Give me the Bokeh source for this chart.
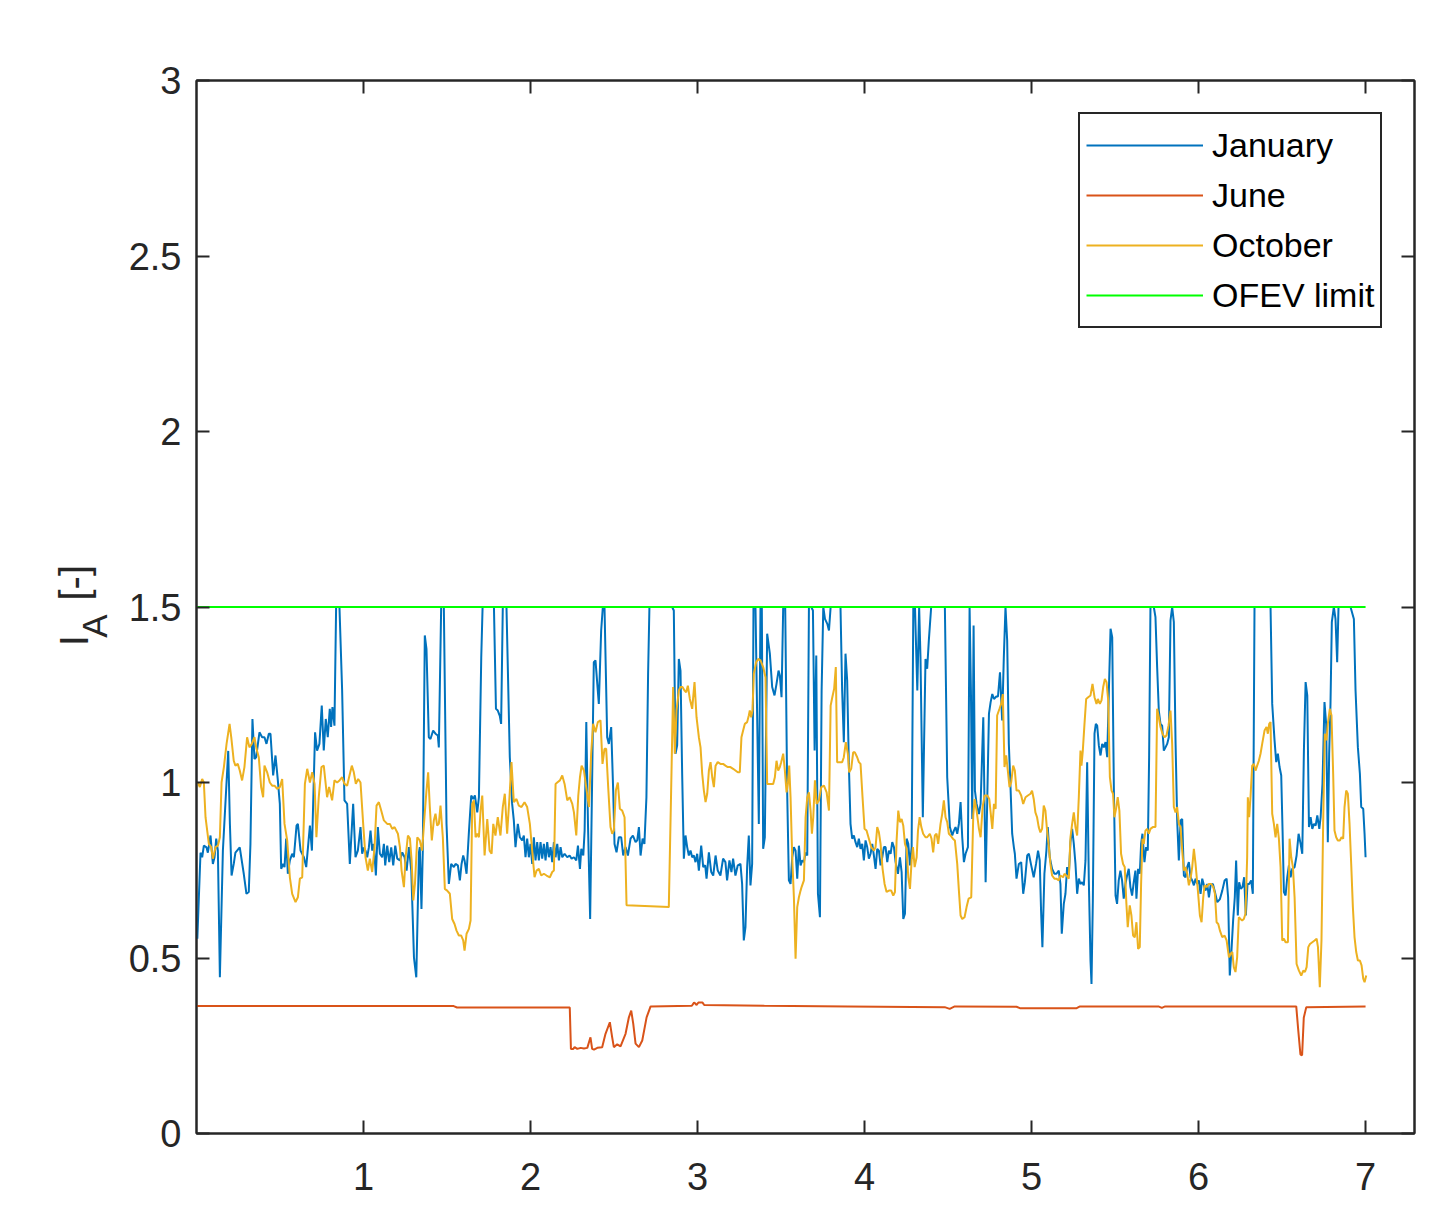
import math
from bokeh.plotting import figure
from bokeh.models import Range1d, LinearAxis, FixedTicker
from bokeh.layouts import row
from bokeh.core.properties import value
from bokeh.embed import file_html
from bokeh.resources import INLINE

# ---------------- data ----------------
jan_x = [0.005, 0.024, 0.034, 0.044, 0.06, 0.068, 0.084, 0.098, 0.108, 0.118, 0.128, 0.14, 0.158, 0.19, 0.20,
         0.21, 0.223, 0.233, 0.259, 0.283, 0.299, 0.313, 0.323, 0.335, 0.347, 0.357, 0.377, 0.393, 0.407, 0.419,
         0.433, 0.443, 0.459, 0.473, 0.487, 0.499, 0.507, 0.519, 0.527, 0.537, 0.547, 0.559, 0.573, 0.583, 0.599,
         0.607, 0.623, 0.643, 0.657, 0.679, 0.691, 0.71, 0.722, 0.736, 0.75, 0.762, 0.774, 0.786, 0.798, 0.806,
         0.814, 0.826, 0.836, 0.856, 0.872, 0.886, 0.902, 0.918, 0.938, 0.952, 0.966, 0.982, 0.992, 1.002, 1.012,
         1.022, 1.032, 1.042, 1.052, 1.062, 1.074, 1.086, 1.098, 1.112, 1.122, 1.13, 1.142, 1.154, 1.166, 1.178,
         1.19, 1.202, 1.218, 1.232, 1.246, 1.258, 1.272, 1.286, 1.302, 1.316, 1.332, 1.337, 1.347, 1.355, 1.367,
         1.377, 1.391, 1.401, 1.417, 1.431, 1.445, 1.451, 1.465, 1.481, 1.497, 1.511, 1.525, 1.541, 1.551, 1.565,
         1.577, 1.587, 1.597, 1.605, 1.617, 1.631, 1.645, 1.657, 1.667, 1.681, 1.691, 1.705, 1.713, 1.781, 1.793,
         1.804, 1.816, 1.824, 1.834, 1.856, 1.876, 1.89, 1.9, 1.91, 1.924, 1.936, 1.95, 1.96, 1.97, 1.98,
         1.99, 2.0, 2.01, 2.02, 2.03, 2.04, 2.05, 2.06, 2.07, 2.08, 2.09, 2.1, 2.11, 2.12, 2.13,
         2.14, 2.15, 2.16, 2.17, 2.18, 2.19, 2.204, 2.22, 2.234, 2.246, 2.26, 2.274, 2.284, 2.296, 2.304,
         2.316, 2.324, 2.334, 2.344, 2.357, 2.379, 2.389, 2.409, 2.423, 2.433, 2.443, 2.459, 2.469, 2.483, 2.495,
         2.503, 2.515, 2.529, 2.543, 2.555, 2.569, 2.583, 2.599, 2.613, 2.629, 2.639, 2.649, 2.659, 2.671, 2.682,
         2.694, 2.704, 2.712, 2.848, 2.858, 2.868, 2.878, 2.888, 2.898, 2.908, 2.918, 2.928, 2.938, 2.948, 2.958,
         2.968, 2.978, 2.988, 2.998, 3.008, 3.022, 3.034, 3.046, 3.054, 3.068, 3.082, 3.094, 3.108, 3.121, 3.137,
         3.153, 3.167, 3.177, 3.191, 3.203, 3.213, 3.227, 3.241, 3.257, 3.267, 3.277, 3.287, 3.297, 3.307, 3.317,
         3.327, 3.335, 3.347, 3.367, 3.377, 3.385, 3.393, 3.403, 3.417, 3.433, 3.447, 3.461, 3.473, 3.485, 3.493,
         3.503, 3.513, 3.525, 3.537, 3.547, 3.557, 3.567, 3.577, 3.587, 3.597, 3.607, 3.617, 3.627, 3.637, 3.647,
         3.657, 3.667, 3.681, 3.691, 3.701, 3.711, 3.721, 3.733, 3.743, 3.753, 3.763, 3.777, 3.787, 3.797, 3.856,
         3.866, 3.876, 3.886, 3.896, 3.906, 3.916, 3.926, 3.936, 3.946, 3.956, 3.966, 3.976, 3.986, 3.996, 4.006,
         4.016, 4.026, 4.036, 4.046, 4.056, 4.066, 4.076, 4.086, 4.096, 4.106, 4.116, 4.126, 4.136, 4.146, 4.156,
         4.166, 4.176, 4.186, 4.2, 4.212, 4.222, 4.232, 4.242, 4.252, 4.262, 4.272, 4.282, 4.292, 4.302, 4.316,
         4.327, 4.335, 4.349, 4.365, 4.375, 4.385, 4.399, 4.481, 4.495, 4.511, 4.525, 4.535, 4.545, 4.555, 4.565,
         4.575, 4.585, 4.595, 4.605, 4.619, 4.629, 4.637, 4.645, 4.653, 4.661, 4.671, 4.685, 4.695, 4.711, 4.725,
         4.735, 4.745, 4.755, 4.765, 4.775, 4.789, 4.799, 4.811, 4.824, 4.834, 4.844, 4.854, 4.864, 4.874, 4.884,
         4.894, 4.9, 4.91, 4.924, 4.938, 4.95, 4.96, 4.974, 4.984, 4.998, 5.013, 5.027, 5.039, 5.049, 5.057,
         5.065, 5.077, 5.089, 5.097, 5.109, 5.123, 5.137, 5.149, 5.163, 5.173, 5.181, 5.193, 5.203, 5.213, 5.223,
         5.233, 5.243, 5.253, 5.263, 5.273, 5.283, 5.293, 5.303, 5.313, 5.323, 5.333, 5.343, 5.353, 5.359, 5.367,
         5.377, 5.385, 5.393, 5.403, 5.413, 5.423, 5.433, 5.443, 5.453, 5.463, 5.473, 5.483, 5.493, 5.503, 5.512,
         5.522, 5.532, 5.542, 5.552, 5.562, 5.572, 5.582, 5.592, 5.602, 5.612, 5.622, 5.628, 5.638, 5.648, 5.656,
         5.664, 5.676, 5.686, 5.696, 5.704, 5.712, 5.732, 5.742, 5.752, 5.762, 5.772, 5.782, 5.792, 5.802, 5.812,
         5.822, 5.832, 5.842, 5.852, 5.862, 5.872, 5.882, 5.892, 5.902, 5.912, 5.922, 5.932, 5.942, 5.952, 5.962,
         5.972, 5.982, 5.992, 6.002, 6.012, 6.022, 6.032, 6.042, 6.052, 6.062, 6.072, 6.086, 6.098, 6.112, 6.128,
         6.142, 6.156, 6.168, 6.177, 6.187, 6.197, 6.207, 6.217, 6.225, 6.235, 6.243, 6.253, 6.263, 6.273, 6.283,
         6.293, 6.303, 6.315, 6.325, 6.335, 6.431, 6.441, 6.455, 6.465, 6.475, 6.485, 6.495, 6.503, 6.511, 6.521,
         6.531, 6.541, 6.551, 6.561, 6.575, 6.587, 6.599, 6.611, 6.621, 6.631, 6.641, 6.651, 6.661, 6.671, 6.681,
         6.691, 6.701, 6.711, 6.723, 6.731, 6.742, 6.754, 6.764, 6.774, 6.782, 6.79, 6.798, 6.81, 6.82, 6.83,
         6.838, 6.91, 6.93, 6.94, 6.954, 6.966, 6.974, 6.986, 6.994, 7.0]
jan_y = [0.555, 0.80, 0.787, 0.82, 0.815, 0.80, 0.849, 0.768, 0.787, 0.84, 0.806, 0.445, 0.806, 1.09, 0.882,
         0.735, 0.768, 0.80, 0.815, 0.74, 0.683, 0.688, 0.825, 1.181, 1.067, 1.072, 1.143, 1.129, 1.129, 1.11,
         1.139, 1.139, 1.02, 1.077, 1.006, 0.939, 0.754, 0.768, 0.759, 0.84, 0.74, 0.778, 0.797, 0.787, 0.877,
         0.882, 0.806, 0.787, 0.759, 0.877, 0.806, 1.143, 1.091, 1.11, 1.219, 1.091, 1.181, 1.129, 1.21, 1.158,
         1.215, 1.162, 1.5, 1.5, 1.262, 0.949, 0.939, 0.768, 0.939, 0.787, 0.806, 0.873, 0.797, 0.815, 0.806,
         0.787, 0.815, 0.863, 0.806, 0.825, 0.735, 0.873, 0.797, 0.787, 0.825, 0.764, 0.82, 0.773, 0.815, 0.764,
         0.82, 0.783, 0.778, 0.801, 0.787, 0.749, 0.816, 0.749, 0.502, 0.445, 0.801, 0.816, 0.64, 0.806, 1.419,
         1.381, 1.129, 1.124, 1.148, 1.139, 1.134, 1.1, 1.5, 1.5, 0.882, 0.711, 0.768, 0.759, 0.768, 0.764,
         0.721, 0.768, 0.792, 0.778, 0.74, 0.858, 0.963, 0.953, 0.963, 0.915, 0.958, 1.357, 1.5, 1.5, 1.21,
         1.205, 1.19, 1.167, 1.5, 1.5, 1.072, 0.939, 0.892, 0.816, 0.882, 0.844, 0.835, 0.849, 0.787, 0.84,
         0.787, 0.825, 0.768, 0.844, 0.778, 0.83, 0.778, 0.83, 0.783, 0.825, 0.778, 0.83, 0.787, 0.816, 0.773,
         0.83, 0.787, 0.825, 0.778, 0.816, 0.787, 0.797, 0.787, 0.792, 0.783, 0.787, 0.778, 0.82, 0.754, 0.811,
         0.792, 0.863, 1.172, 0.882, 0.611, 1.343, 1.348, 1.224, 1.433, 1.5, 1.5, 1.129, 1.11, 1.158, 0.977,
         0.825, 0.801, 0.844, 0.844, 0.792, 0.816, 0.792, 0.84, 0.849, 0.83, 0.835, 0.873, 0.792, 0.84, 0.825,
         0.958, 1.309, 1.5, 1.5, 1.49, 1.082, 1.106, 1.352, 1.319, 1.025, 0.783, 0.849, 0.816, 0.792, 0.806,
         0.787, 0.792, 0.773, 0.797, 0.749, 0.82, 0.759, 0.764, 0.726, 0.801, 0.745, 0.735, 0.792, 0.749, 0.735,
         0.783, 0.773, 0.721, 0.778, 0.745, 0.783, 0.735, 0.764, 0.768, 0.711, 0.55, 0.588, 0.759, 0.849, 0.707,
         0.768, 1.5, 1.5, 0.882, 1.5, 1.5, 0.811, 0.844, 1.424, 1.367, 1.272, 1.248, 1.281, 1.319, 1.305,
         1.243, 1.5, 1.5, 0.968, 0.721, 0.711, 0.787, 0.816, 0.806, 0.726, 0.82, 0.764, 0.778, 0.773, 0.801,
         0.792, 1.5, 1.5, 1.49, 1.091, 1.362, 0.683, 0.616, 1.262, 1.5, 1.466, 1.452, 1.433, 1.5, 1.5,
         1.262, 1.115, 1.367, 1.291, 1.053, 0.882, 0.84, 0.849, 0.83, 0.816, 0.84, 0.811, 0.825, 0.778, 0.835,
         0.816, 0.783, 0.797, 0.825, 0.792, 0.754, 0.811, 0.806, 0.764, 0.787, 0.816, 0.816, 0.773, 0.806, 0.797,
         0.83, 0.816, 0.773, 0.74, 0.787, 0.745, 0.611, 0.626, 0.84, 0.825, 0.764, 0.816, 1.5, 1.5, 1.262,
         1.5, 1.357, 0.901, 1.352, 1.324, 1.405, 1.5, 1.5, 1.015, 0.873, 0.849, 0.863, 0.873, 0.854, 0.882,
         0.944, 0.844, 0.773, 0.797, 0.816, 1.5, 1.262, 0.896, 1.447, 0.977, 0.939, 0.91, 0.939, 1.186, 0.716,
         0.958, 1.196, 1.229, 1.252, 1.238, 1.245, 1.245, 1.314, 1.177, 1.357, 1.5, 1.405, 1.11, 0.987, 0.854,
         0.816, 0.797, 0.726, 0.768, 0.773, 0.683, 0.716, 0.792, 0.797, 0.764, 0.73, 0.768, 0.806, 0.778, 0.635,
         0.531, 0.74, 0.806, 0.873, 0.787, 0.754, 0.74, 0.74, 0.749, 0.711, 0.569, 0.654, 0.683, 0.759, 0.735,
         0.83, 0.868, 0.825, 0.768, 0.683, 0.726, 0.711, 0.716, 0.707, 0.778, 1.058, 0.721, 0.493, 0.426, 0.664,
         1.139, 1.167, 1.162, 1.105, 1.077, 1.11, 1.1, 1.115, 1.072, 1.262, 1.438, 1.414, 0.977, 0.678, 0.654,
         0.721, 0.749, 0.721, 0.669, 0.711, 0.735, 0.754, 0.702, 0.678, 0.716, 0.749, 0.669, 0.754, 0.74, 0.825,
         0.854, 0.773, 0.816, 0.806, 1.072, 1.5, 1.5, 1.471, 1.329, 1.205, 1.167, 1.162, 1.091, 1.1, 1.11,
         1.129, 1.462, 1.5, 1.457, 1.12, 0.892, 0.778, 0.892, 0.896, 0.735, 0.73, 0.759, 0.773, 0.73, 0.721,
         0.707, 0.726, 0.711, 0.721, 0.683, 0.726, 0.707, 0.692, 0.711, 0.673, 0.707, 0.711, 0.688, 0.659, 0.668,
         0.692, 0.721, 0.726, 0.673, 0.45, 0.521, 0.607, 0.673, 0.778, 0.621, 0.716, 0.697, 0.702, 0.73, 0.621,
         0.711, 0.711, 0.721, 0.683, 1.5, 1.5, 1.224, 1.12, 1.058, 1.082, 1.044, 1.02, 0.863, 0.688, 0.678,
         0.73, 0.764, 0.73, 0.754, 0.759, 0.792, 0.854, 0.825, 0.797, 1.096, 1.286, 1.248, 0.873, 0.901, 0.868,
         0.882, 0.877, 0.906, 0.868, 0.901, 0.996, 1.229, 1.167, 0.83, 1.082, 1.224, 1.457, 1.5, 1.466, 1.343,
         1.5, 1.5, 1.466, 1.262, 1.1, 1.025, 0.93, 0.925, 0.854, 0.787]

jun_x = [0.0, 1.54, 1.56, 2.235, 2.242, 2.256, 2.264, 2.28, 2.30, 2.32, 2.34, 2.359, 2.369, 2.38, 2.40,
         2.429, 2.449, 2.475, 2.489, 2.499, 2.519, 2.539, 2.569, 2.589, 2.603, 2.615, 2.629, 2.649, 2.669, 2.695,
         2.719, 2.966, 2.979, 2.986, 2.993, 3.005, 3.03, 3.04, 3.4, 3.9, 4.48, 4.51, 4.54, 4.91, 4.93,
         5.27, 5.29, 5.76, 5.78, 5.80, 6.585, 6.597, 6.61, 6.62, 6.63, 6.645, 7.0]
jun_y = [0.363, 0.363, 0.359, 0.359, 0.241, 0.241, 0.246, 0.241, 0.244, 0.242, 0.244, 0.274, 0.241, 0.239, 0.244,
         0.246, 0.284, 0.317, 0.274, 0.246, 0.254, 0.248, 0.284, 0.331, 0.35, 0.313, 0.256, 0.246, 0.265, 0.331,
         0.362, 0.364, 0.373, 0.371, 0.366, 0.373, 0.373, 0.366, 0.364, 0.362, 0.36, 0.355, 0.362, 0.361, 0.357,
         0.357, 0.362, 0.362, 0.358, 0.362, 0.362, 0.294, 0.225, 0.223, 0.33, 0.36, 0.362]

oct_x = [0.008, 0.02, 0.034, 0.044, 0.054, 0.074, 0.088, 0.098, 0.114, 0.128, 0.14, 0.15, 0.164, 0.18, 0.198,
         0.208, 0.223, 0.233, 0.247, 0.259, 0.273, 0.287, 0.303, 0.317, 0.331, 0.347, 0.359, 0.373, 0.387, 0.399,
         0.407, 0.423, 0.439, 0.453, 0.467, 0.483, 0.499, 0.513, 0.527, 0.543, 0.559, 0.573, 0.593, 0.607, 0.619,
         0.633, 0.649, 0.663, 0.679, 0.693, 0.707, 0.718, 0.732, 0.748, 0.762, 0.782, 0.794, 0.812, 0.826, 0.842,
         0.856, 0.872, 0.886, 0.902, 0.916, 0.93, 0.942, 0.954, 0.968, 0.982, 0.998, 1.012, 1.026, 1.038, 1.052,
         1.066, 1.078, 1.092, 1.106, 1.122, 1.142, 1.158, 1.172, 1.186, 1.206, 1.218, 1.228, 1.242, 1.252, 1.266,
         1.278, 1.288, 1.298, 1.308, 1.322, 1.337, 1.351, 1.365, 1.377, 1.387, 1.397, 1.409, 1.421, 1.431, 1.441,
         1.451, 1.461, 1.475, 1.487, 1.501, 1.517, 1.531, 1.545, 1.557, 1.571, 1.585, 1.597, 1.605, 1.617, 1.631,
         1.641, 1.651, 1.661, 1.671, 1.681, 1.691, 1.701, 1.711, 1.725, 1.741, 1.755, 1.767, 1.777, 1.79, 1.804,
         1.82, 1.834, 1.846, 1.86, 1.874, 1.886, 1.9, 1.916, 1.93, 1.946, 1.964, 1.98, 1.996, 2.01, 2.024,
         2.036, 2.05, 2.064, 2.08, 2.096, 2.116, 2.13, 2.14, 2.15, 2.16, 2.176, 2.19, 2.204, 2.22, 2.234,
         2.25, 2.26, 2.274, 2.286, 2.296, 2.306, 2.32, 2.336, 2.35, 2.363, 2.375, 2.389, 2.403, 2.419, 2.431,
         2.443, 2.453, 2.465, 2.479, 2.489, 2.499, 2.511, 2.523, 2.535, 2.549, 2.563, 2.575, 2.828, 2.842, 2.854,
         2.864, 2.874, 2.888, 2.898, 2.91, 2.922, 2.932, 2.942, 2.954, 2.968, 2.982, 2.994, 3.008, 3.018, 3.028,
         3.038, 3.048, 3.058, 3.068, 3.078, 3.088, 3.098, 3.108, 3.121, 3.137, 3.153, 3.167, 3.181, 3.197, 3.213,
         3.227, 3.241, 3.253, 3.263, 3.273, 3.283, 3.297, 3.307, 3.313, 3.321, 3.329, 3.337, 3.351, 3.363, 3.377,
         3.393, 3.407, 3.417, 3.427, 3.441, 3.453, 3.463, 3.473, 3.483, 3.493, 3.501, 3.513, 3.523, 3.533, 3.541,
         3.549, 3.557, 3.567, 3.577, 3.587, 3.597, 3.607, 3.617, 3.623, 3.637, 3.647, 3.657, 3.667, 3.677, 3.685,
         3.693, 3.703, 3.713, 3.727, 3.741, 3.757, 3.773, 3.787, 3.797, 3.807, 3.818, 3.828, 3.836, 3.85, 3.866,
         3.876, 3.888, 3.9, 3.908, 3.92, 3.932, 3.942, 3.956, 3.966, 3.976, 3.988, 4.0, 4.012, 4.026, 4.04,
         4.056, 4.066, 4.076, 4.086, 4.096, 4.108, 4.12, 4.132, 4.146, 4.16, 4.172, 4.182, 4.192, 4.202, 4.212,
         4.222, 4.232, 4.242, 4.252, 4.262, 4.272, 4.282, 4.29, 4.3, 4.312, 4.32, 4.33, 4.34, 4.351, 4.365,
         4.375, 4.391, 4.401, 4.411, 4.421, 4.431, 4.441, 4.455, 4.465, 4.475, 4.485, 4.495, 4.505, 4.515, 4.529,
         4.541, 4.555, 4.565, 4.575, 4.585, 4.599, 4.611, 4.623, 4.639, 4.651, 4.659, 4.671, 4.685, 4.695, 4.707,
         4.719, 4.735, 4.747, 4.755, 4.765, 4.775, 4.785, 4.794, 4.808, 4.818, 4.828, 4.838, 4.848, 4.858, 4.868,
         4.878, 4.89, 4.9, 4.91, 4.924, 4.938, 4.95, 4.964, 4.978, 4.994, 5.003, 5.013, 5.023, 5.033, 5.043,
         5.053, 5.063, 5.073, 5.083, 5.093, 5.103, 5.113, 5.123, 5.137, 5.149, 5.163, 5.173, 5.189, 5.197, 5.209,
         5.223, 5.233, 5.243, 5.253, 5.263, 5.273, 5.283, 5.293, 5.299, 5.307, 5.317, 5.327, 5.339, 5.353, 5.365,
         5.377, 5.389, 5.397, 5.409, 5.419, 5.429, 5.439, 5.449, 5.459, 5.469, 5.479, 5.488, 5.496, 5.506, 5.516,
         5.526, 5.536, 5.548, 5.558, 5.568, 5.576, 5.588, 5.598, 5.608, 5.618, 5.628, 5.638, 5.648, 5.656, 5.664,
         5.672, 5.682, 5.692, 5.702, 5.712, 5.726, 5.742, 5.752, 5.762, 5.772, 5.784, 5.796, 5.808, 5.82, 5.832,
         5.842, 5.852, 5.862, 5.872, 5.882, 5.892, 5.902, 5.912, 5.922, 5.932, 5.942, 5.952, 5.962, 5.972, 5.982,
         5.996, 6.008, 6.018, 6.028, 6.036, 6.048, 6.062, 6.076, 6.088, 6.098, 6.108, 6.118, 6.128, 6.142, 6.156,
         6.168, 6.182, 6.192, 6.202, 6.211, 6.221, 6.231, 6.241, 6.251, 6.261, 6.271, 6.281, 6.291, 6.295, 6.303,
         6.311, 6.321, 6.331, 6.341, 6.351, 6.361, 6.371, 6.381, 6.395, 6.407, 6.415, 6.423, 6.431, 6.441, 6.451,
         6.461, 6.471, 6.481, 6.491, 6.501, 6.511, 6.521, 6.535, 6.545, 6.555, 6.565, 6.575, 6.587, 6.601, 6.615,
         6.627, 6.637, 6.647, 6.657, 6.667, 6.681, 6.695, 6.707, 6.715, 6.726, 6.736, 6.746, 6.756, 6.766, 6.774,
         6.786, 6.796, 6.806, 6.814, 6.824, 6.834, 6.846, 6.856, 6.866, 6.874, 6.884, 6.894, 6.904, 6.914, 6.924,
         6.934, 6.944, 6.954, 6.966, 6.976, 6.986, 6.994, 7.004]
oct_y = [1.0, 0.987, 1.01, 1.0, 0.901, 0.825, 0.816, 0.783, 0.816, 0.82, 0.844, 1.0, 1.044, 1.11, 1.167,
         1.129, 1.062, 1.048, 1.053, 1.034, 1.006, 1.044, 1.129, 1.1, 1.11, 1.129, 1.096, 1.072, 0.987, 0.958,
         1.048, 1.029, 1.0, 0.991, 0.991, 0.982, 0.987, 1.01, 0.882, 0.835, 0.73, 0.683, 0.659, 0.673, 0.726,
         0.73, 0.996, 1.039, 1.0, 1.029, 0.996, 0.844, 0.958, 1.044, 1.048, 0.958, 0.987, 0.949, 1.006, 1.0,
         1.006, 1.015, 0.996, 0.991, 1.02, 1.048, 1.029, 0.996, 1.01, 1.0, 0.882, 0.787, 0.749, 0.783, 0.745,
         0.816, 0.934, 0.944, 0.92, 0.892, 0.882, 0.882, 0.868, 0.873, 0.854, 0.816, 0.749, 0.702, 0.787, 0.849,
         0.84, 0.778, 0.664, 0.711, 0.844, 0.835, 0.806, 0.901, 0.977, 1.029, 0.93, 0.835, 0.892, 0.911, 0.877,
         0.882, 0.934, 0.844, 0.697, 0.692, 0.683, 0.611, 0.597, 0.578, 0.564, 0.564, 0.55, 0.521, 0.569, 0.583,
         0.607, 0.939, 0.949, 0.844, 0.854, 0.844, 0.92, 0.963, 0.792, 0.896, 0.806, 0.797, 0.882, 0.849, 0.901,
         0.849, 0.93, 0.968, 0.854, 0.958, 1.058, 0.944, 0.953, 0.934, 0.93, 0.944, 0.93, 0.882, 0.806, 0.73,
         0.749, 0.754, 0.735, 0.74, 0.735, 0.73, 0.745, 0.749, 0.996, 1.0, 1.006, 1.02, 0.996, 0.949, 0.958,
         0.939, 0.915, 0.849, 0.963, 1.015, 1.048, 1.034, 0.977, 0.93, 1.082, 1.167, 1.143, 1.172, 1.177, 1.053,
         1.096, 1.096, 0.987, 0.873, 0.854, 0.863, 0.977, 1.0, 0.925, 0.92, 0.901, 0.65, 0.645, 0.977, 1.272,
         1.082, 1.205, 1.262, 1.272, 1.272, 1.262, 1.257, 1.276, 1.238, 1.21, 1.286, 1.186, 1.129, 1.1, 1.025,
         0.977, 0.944, 0.968, 1.034, 1.058, 1.015, 0.987, 1.048, 1.058, 1.053, 1.053, 1.048, 1.044, 1.044, 1.039,
         1.034, 1.029, 1.029, 1.129, 1.148, 1.167, 1.172, 1.191, 1.205, 1.186, 1.205, 1.31, 1.343, 1.352, 1.348,
         1.329, 1.3, 0.996, 0.996, 0.996, 0.996, 1.015, 1.062, 1.034, 1.044, 1.058, 1.082, 1.034, 0.972, 0.996,
         1.048, 0.958, 0.787, 0.673, 0.498, 0.645, 0.673, 0.692, 0.702, 0.721, 0.901, 0.958, 0.972, 0.92, 0.854,
         0.901, 1.006, 0.939, 0.949, 0.987, 0.991, 0.972, 0.92, 1.219, 1.243, 1.267, 1.329, 1.058, 1.058, 1.058,
         1.072, 1.115, 1.082, 1.029, 1.039, 1.086, 1.086, 1.072, 1.058, 1.053, 0.958, 0.868, 0.863, 0.84, 0.816,
         0.806, 0.816, 0.873, 0.858, 0.825, 0.754, 0.711, 0.688, 0.692, 0.692, 0.678, 0.688, 0.835, 0.92, 0.887,
         0.896, 0.877, 0.825, 0.811, 0.73, 0.697, 0.778, 0.816, 0.759, 0.787, 0.863, 0.901, 0.873, 0.854, 0.844,
         0.844, 0.854, 0.84, 0.801, 0.849, 0.854, 0.825, 0.882, 0.91, 0.949, 0.901, 0.887, 0.854, 0.849, 0.84,
         0.835, 0.768, 0.692, 0.621, 0.611, 0.616, 0.645, 0.669, 0.673, 0.906, 0.953, 0.92, 0.868, 0.844, 0.93,
         0.963, 0.963, 0.953, 0.915, 0.868, 0.939, 0.925, 1.191, 1.21, 1.224, 1.252, 1.044, 1.077, 1.034, 0.987,
         1.0, 1.048, 1.034, 0.977, 0.977, 0.963, 0.939, 0.958, 0.963, 0.968, 0.977, 0.953, 0.915, 0.901, 0.873,
         0.858, 0.868, 0.934, 0.92, 0.863, 0.82, 0.768, 0.735, 0.726, 0.726, 0.721, 0.735, 0.73, 0.74, 0.735,
         0.726, 0.844, 0.882, 0.915, 0.873, 0.849, 0.958, 1.091, 1.048, 1.091, 1.167, 1.238, 1.243, 1.248, 1.281,
         1.243, 1.224, 1.238, 1.224, 1.234, 1.272, 1.295, 1.286, 1.234, 1.015, 0.977, 0.968, 0.901, 0.925, 0.958,
         0.92, 0.797, 0.768, 0.759, 0.654, 0.588, 0.65, 0.621, 0.564, 0.559, 0.602, 0.526, 0.531, 0.711, 0.84,
         0.825, 0.863, 0.868, 0.854, 0.868, 0.873, 0.873, 1.21, 1.186, 1.158, 1.139, 1.129, 1.134, 1.162, 1.205,
         1.11, 0.93, 0.915, 0.93, 0.882, 0.873, 0.806, 0.749, 0.759, 0.74, 0.707, 0.726, 0.759, 0.811, 0.768,
         0.692, 0.621, 0.602, 0.673, 0.707, 0.702, 0.711, 0.711, 0.702, 0.683, 0.602, 0.597, 0.578, 0.559, 0.564,
         0.55, 0.502, 0.512, 0.517, 0.474, 0.46, 0.502, 0.616, 0.611, 0.607, 0.611, 0.626, 0.787, 0.958, 0.901,
         0.958, 1.048, 1.053, 1.034, 1.048, 1.062, 1.082, 1.11, 1.148, 1.158, 1.139, 1.167, 1.172, 0.911, 0.882,
         0.844, 0.882, 0.84, 0.759, 0.55, 0.555, 0.545, 0.545, 0.84, 0.787, 0.759, 0.673, 0.483, 0.464, 0.45,
         0.464, 0.46, 0.474, 0.531, 0.54, 0.545, 0.55, 0.555, 0.531, 0.417, 0.55, 0.882, 1.139, 1.12, 1.167,
         1.21, 1.191, 1.025, 0.863, 0.844, 0.835, 0.835, 0.844, 0.84, 0.93, 0.977, 0.968, 0.882, 0.768, 0.645,
         0.559, 0.517, 0.493, 0.493, 0.479, 0.441, 0.431, 0.45]

limit_x = [0.0, 7.0]
limit_y = [1.5, 1.5]

x_ticks = [1, 2, 3, 4, 5, 6, 7]
x_tick_labels = ["1", "2", "3", "4", "5", "6", "7"]
y_ticks = [0, 0.5, 1, 1.5, 2, 2.5, 3]
y_tick_labels = ["0", "0.5", "1", "1.5", "2", "2.5", "3"]

series_names = ["January", "June", "October", "OFEV limit"]
series_colors = ["#0072BD", "#D95319", "#EDB120", "#00FF00"]

ylabel_parts = ["I", "A", "[-]"]

AX = "#262626"
FONT = "Liberation Sans"
TOTAL_W = 1437
TOTAL_H = 1217
LAB_W = 120

# ---------------- y-label strip ----------------
lab = figure(width=LAB_W, height=TOTAL_H, x_range=Range1d(0, LAB_W), y_range=Range1d(0, TOTAL_H),
             output_backend="svg", toolbar_location=None, x_axis_location=None, y_axis_location=None,
             min_border=0, outline_line_color=None)
lab.grid.visible = False
lab.text(x=[73], y=[TOTAL_H - 654], text=[ylabel_parts[0]], angle=math.pi / 2,
         text_font=value(FONT), text_font_size="40px", text_color=AX,
         text_align="left", text_baseline="alphabetic")
lab.text(x=[94], y=[TOTAL_H - 644], text=[ylabel_parts[1]], angle=math.pi / 2,
         text_font=value(FONT), text_font_size="35px", text_color=AX,
         text_align="left", text_baseline="alphabetic")
lab.text(x=[73], y=[TOTAL_H - 601], text=[ylabel_parts[2]], angle=math.pi / 2,
         text_font=value(FONT), text_font_size="40px", text_color=AX,
         text_align="left", text_baseline="alphabetic")

# ---------------- main plot ----------------
p = figure(width=TOTAL_W - LAB_W, height=TOTAL_H, x_range=Range1d(0, 7.293), y_range=Range1d(0, 3),
           output_backend="svg", toolbar_location=None,
           x_axis_location=None, y_axis_location=None,
           min_border_left=196 - LAB_W, min_border_right=23, min_border_top=80, min_border_bottom=TOTAL_H - 1133)
p.grid.visible = False
p.outline_line_color = AX
p.outline_line_width = 2
p.background_fill_color = "white"
p.border_fill_color = "white"


def make_axis(ticks, labels, show, standoff):
    ax = LinearAxis(ticker=FixedTicker(ticks=ticks))
    ax.major_label_overrides = {t: l for t, l in zip(ticks, labels)}
    ax.major_tick_in = 13
    ax.major_tick_out = 0
    ax.minor_tick_in = 0
    ax.minor_tick_out = 0
    ax.axis_line_color = AX
    ax.axis_line_width = 2
    ax.major_tick_line_color = AX
    ax.major_tick_line_width = 2
    ax.major_label_text_font = FONT
    ax.major_label_text_color = AX
    if show:
        ax.major_label_text_font_size = "38px"
    else:
        ax.major_label_text_alpha = 0.0
        ax.major_label_text_font_size = "1px"
    ax.major_label_standoff = standoff
    return ax


p.add_layout(make_axis(x_ticks, x_tick_labels, True, 29), "below")
p.add_layout(make_axis(x_ticks, x_tick_labels, False, 0), "above")
p.add_layout(make_axis(y_ticks, y_tick_labels, True, 15), "left")
p.add_layout(make_axis(y_ticks, y_tick_labels, False, 0), "right")

p.line(jan_x, jan_y, line_color=series_colors[0], line_width=2, legend_label=series_names[0])
p.line(jun_x, jun_y, line_color=series_colors[1], line_width=2, legend_label=series_names[1])
p.line(oct_x, oct_y, line_color=series_colors[2], line_width=2, legend_label=series_names[2])
p.line(limit_x, limit_y, line_color=series_colors[3], line_width=2, legend_label=series_names[3])

lg = p.legend[0]
lg.location = (882, 805)
lg.label_text_font = FONT
lg.label_text_font_size = "34px"
lg.label_text_color = "black"
lg.glyph_width = 117
lg.glyph_height = 50
lg.label_height = 50
lg.label_standoff = 9
lg.spacing = 0
lg.padding = 6
lg.margin = 0
lg.border_line_color = AX
lg.border_line_width = 2
lg.border_line_alpha = 1.0
lg.background_fill_color = "white"
lg.background_fill_alpha = 1.0

layout = row(lab, p)
open("out.html", "w").write(file_html(layout, INLINE))
